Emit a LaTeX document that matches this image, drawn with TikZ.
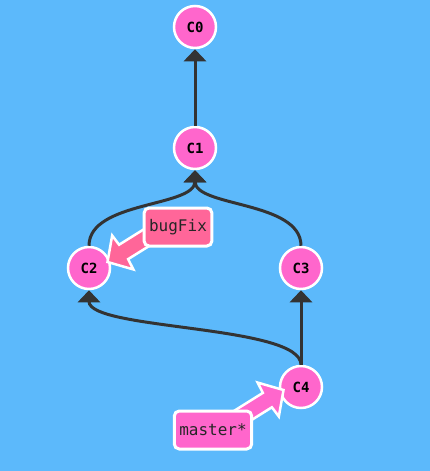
\documentclass[tikz,border=0pt]{standalone}
\usepackage{fontspec}
\setmonofont{DejaVu Sans Mono}
\usetikzlibrary{arrows.meta,calc}
\definecolor{bg}{HTML}{5CB9FB}
\definecolor{cpink}{HTML}{FF66CC}
\definecolor{bpink}{HTML}{FF6699}
\definecolor{edgec}{HTML}{333333}
\newcommand{\brshape}{(0,0) -- (-18,-20) -- (-19,-8.5) -- (-62,-8.5) -- (-62,8.5) -- (-19,8.5) -- (-18,20) -- cycle}
\begin{document}
\begin{tikzpicture}[x=1pt,y=-1pt,
 commit/.style={circle,fill=cpink,draw=white,line width=2.5pt,minimum size=42pt,inner sep=0pt,font=\ttfamily\bfseries\fontsize{14}{14}\selectfont},
 branch/.style={rounded corners=5pt,draw=white,line width=3pt,font=\ttfamily\fontsize{16}{16}\selectfont,minimum height=38pt,inner xsep=5pt,text=black!85},
 parent/.style={draw=edgec,line width=3pt,-{Triangle[width=22pt,length=12pt]}},
 brstyle/.style={draw=white,line width=2.5pt,line join=miter,fill=#1}
]
\useasboundingbox (0,0) rectangle (430,471);
\fill[bg] (0,0) rectangle (430,471);
% commits
\node[commit] (c0) at (195,27) {C0};
\node[commit] (c1) at (195,148) {C1};
\node[commit] (c2) at (89,268) {C2};
\node[commit] (c3) at (301,268) {C3};
\node[commit] (c4) at (301,387) {C4};
% parent links
\draw[parent] (c1) -- (c0);
\draw[parent] (c2.north) .. controls +(0,-45) and +(0,37) .. (c1.south);
\draw[parent] (c3.north) .. controls +(0,-45) and +(0,37) .. (c1.south);
\draw[parent] (c4) -- (c3);
\draw[parent] (c4.north) .. controls +(0,-40) and +(0,40) .. (c2.south);
% branch arrows
\coordinate (bftip) at (107.5,262);
\coordinate (mstip) at (283.5,390);
\begin{scope}[shift={(bftip)},rotate=-148]
\draw[brstyle=bpink] \brshape;
\end{scope}
\begin{scope}[shift={(mstip)},rotate=32]
\draw[brstyle=cpink] \brshape;
\end{scope}
% branch labels
\node[branch,fill=bpink] (bf) at (178,227) {bugFix};
\node[branch,fill=cpink] (ms) at (213,430) {master*};
\end{tikzpicture}
\end{document}
